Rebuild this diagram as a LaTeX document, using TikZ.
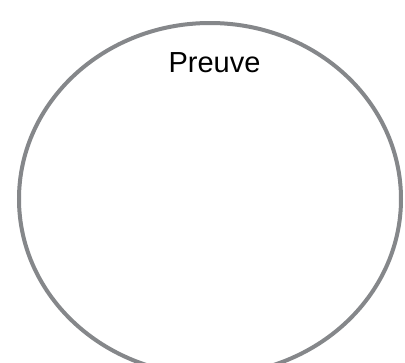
\documentclass[tikz,border=0pt]{standalone}
\usepackage{fontspec}
\setmainfont{Liberation Sans}
\usetikzlibrary{shapes.geometric}
\definecolor{ringgray}{HTML}{85878A}
\tikzset{ring/.style={ellipse, draw=ringgray, line width=4bp, inner sep=0pt, minimum width=382bp, minimum height=352bp},
label/.style={font=\fontsize{29bp}{32bp}\selectfont, text=black, inner sep=0pt, anchor=base}}
\begin{document}
\begin{tikzpicture}[x=1bp,y=-1bp]
\useasboundingbox (0,0) rectangle (405,363);
\clip (0,0) rectangle (405,363);
\fill[white] (0,0) rectangle (405,363);
\node[ring] (e) at (210,199) {};
\node[label] (t) at (214.5,72) {Preuve};
\end{tikzpicture}
\end{document}
